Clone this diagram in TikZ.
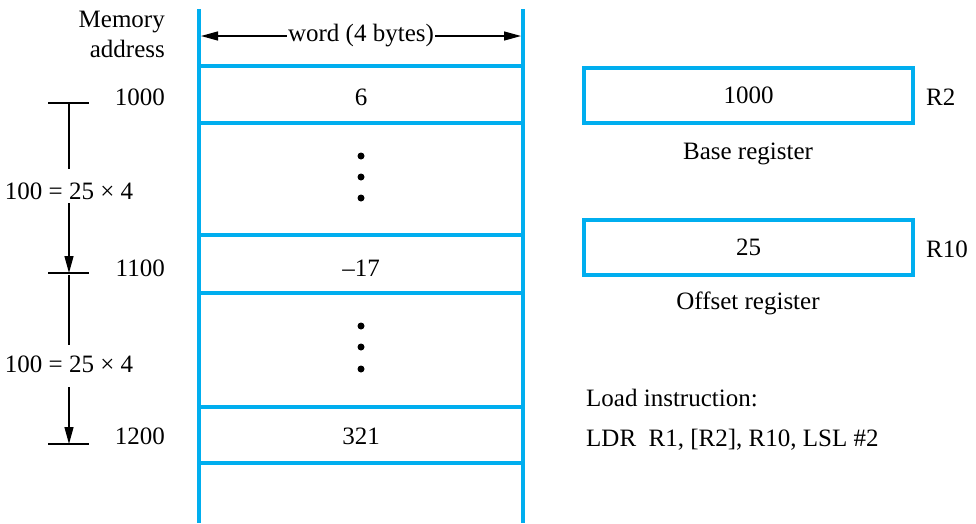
\documentclass[tikz,border=0pt]{standalone}
\usepackage{fontspec}
\setmainfont{Liberation Serif}
\usetikzlibrary{arrows.meta}
\definecolor{cy}{RGB}{0,174,239}
\tikzset{
  mem/.style={draw=cy,line width=3.5pt},
  reg/.style={draw=cy,line width=3.5pt,minimum width=329pt,minimum height=55pt,inner sep=0pt},
  txt/.style={inner sep=1pt,font=\fontsize{25}{30}\selectfont},
  dim/.style={line width=1.3pt,-{Triangle[length=17pt,width=9pt]}},
  plain/.style={line width=1.3pt},
  dot/.style={circle,fill=black,inner sep=0pt,minimum size=7pt}
}
\begin{document}
\begin{tikzpicture}[x=1pt,y=-1pt]
\useasboundingbox (0,0) rectangle (976,523);
% memory column
\draw[mem] (199,9) -- (199,523);
\draw[mem] (523,9) -- (523,523);
\foreach \yy in {66,123,235,293,407,463}
  \draw[mem] (199,\yy) -- (523,\yy);
% word arrow
\node[txt] (w) at (361,36) {word (4 bytes)};
\coordinate (wl) at (201,36);
\coordinate (wr) at (521,36);
\draw[dim] (w.west) -- (wl);
\draw[dim] (w.east) -- (wr);
% header
\node[txt,align=right,anchor=east] (ma) at (166,34) {Memory\\address};
% cell contents
\node[txt] (c1) at (361,97) {6};
\node[dot] (d1) at (361,156) {};
\node[dot] (d2) at (361,177) {};
\node[dot] (d3) at (361,198) {};
\node[txt] (c2) at (361,268) {–17};
\node[dot] (d4) at (361,326) {};
\node[dot] (d5) at (361,347) {};
\node[dot] (d6) at (361,369) {};
\node[txt] (c3) at (361,436) {321};
% addresses
\node[txt,anchor=east] (a1) at (166,97) {1000};
\node[txt,anchor=east] (a2) at (166,268) {1100};
\node[txt,anchor=east] (a3) at (166,436) {1200};
% dimension on left
\coordinate (t1l) at (48,103); \coordinate (t1r) at (89,103);
\coordinate (t2l) at (48,273); \coordinate (t2r) at (89,273);
\coordinate (t3l) at (48,444); \coordinate (t3r) at (89,444);
\coordinate (t1) at (69,103); \coordinate (t2) at (69,273); \coordinate (t3) at (69,444);
\draw[plain] (t1l) -- (t1r);
\draw[plain] (t2l) -- (t2r);
\draw[plain] (t3l) -- (t3r);
\node[txt] (l1) at (69,191) {100 = 25 × 4};
\node[txt] (l2) at (69,364) {100 = 25 × 4};
\coordinate (l1t) at (69,169); \coordinate (l1b) at (69,203);
\coordinate (l2t) at (69,345); \coordinate (l2b) at (69,387);
\draw[plain] (t1) -- (l1t);
\draw[dim] (l1b) -- (t2);
\coordinate (t2b) at (69,275);
\draw[plain] (t2b) -- (l2t);
\draw[dim] (l2b) -- (t3);
% registers
\node[reg,txt,inner sep=0pt] (r2) at (748.5,95.5) {1000};
\node[txt,anchor=west] (r2l) at (925,97) {R2};
\node[txt] (br) at (748,154) {Base register};
\node[reg,txt,inner sep=0pt] (r10) at (748.5,247.5) {25};
\node[txt,anchor=west] (r10l) at (925,249) {R10};
\node[txt] (or) at (748,303) {Offset register};
% instruction
\node[txt,anchor=west] (li) at (585,398) {Load instruction:};
\node[txt,anchor=west] (ldr) at (585,440) {LDR\hspace{0.5em}R1, [R2], R10, LSL \#2};
\end{tikzpicture}
\end{document}
